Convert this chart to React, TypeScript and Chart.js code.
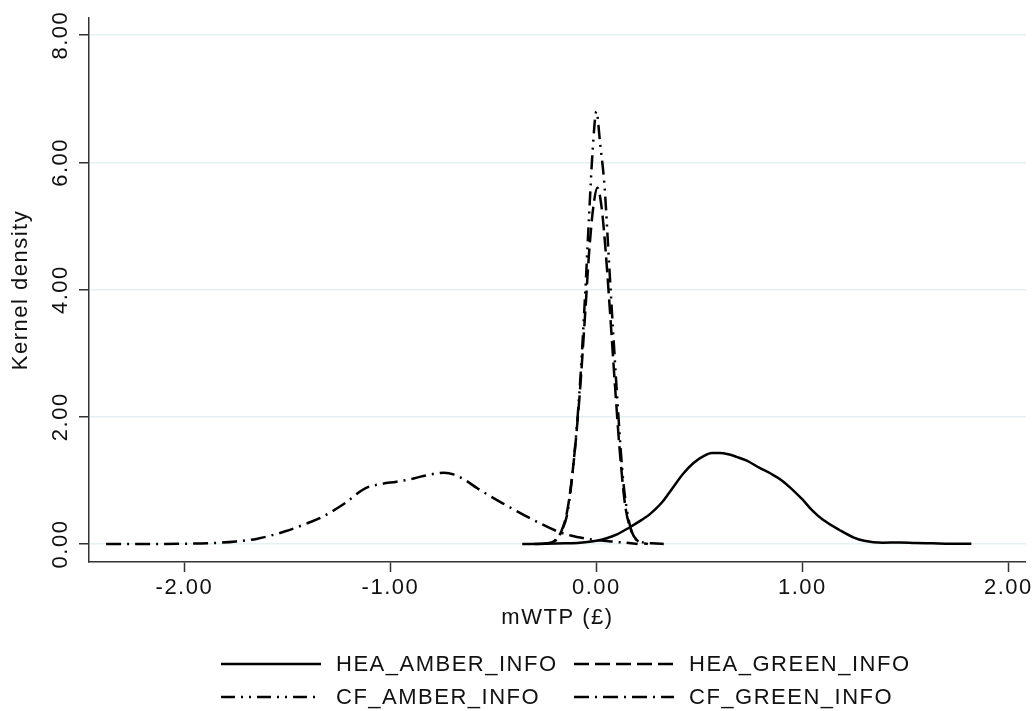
import React, { useEffect, useRef } from 'react';
import { Chart, registerables } from 'chart.js';

Chart.register(...registerables);

// ---- data ----
const HEA_AMBER_X = [-0.36, -0.25, -0.15, -0.08, 0.0, 0.05, 0.1, 0.16, 0.22, 0.26, 0.32, 0.37, 0.42, 0.47, 0.52, 0.56, 0.6, 0.64, 0.68, 0.73, 0.79, 0.85, 0.9, 0.95, 1.0, 1.05, 1.1, 1.18, 1.25, 1.3, 1.39, 1.47, 1.55, 1.63, 1.72, 1.82];
const HEA_AMBER_Y = [0, 0.002, 0.01, 0.02, 0.05, 0.09, 0.15, 0.26, 0.38, 0.47, 0.66, 0.88, 1.1, 1.27, 1.38, 1.43, 1.43, 1.41, 1.37, 1.31, 1.2, 1.1, 1.0, 0.86, 0.7, 0.52, 0.38, 0.22, 0.1, 0.05, 0.02, 0.025, 0.015, 0.01, 0.004, 0.005];

const HEA_GREEN_X = [-0.26, -0.2, -0.17, -0.14, -0.11, -0.08, -0.055, -0.035, -0.015, 0.005, 0.025, 0.045, 0.065, 0.09, 0.115, 0.14, 0.17, 0.2, 0.25];
const HEA_GREEN_Y = [0, 0.05, 0.2, 0.55, 1.3, 2.4, 3.6, 4.6, 5.3, 5.6, 5.3, 4.6, 3.7, 2.5, 1.4, 0.6, 0.2, 0.05, 0];

const CF_AMBER_X = [-0.3, -0.24, -0.2, -0.17, -0.14, -0.11, -0.08, -0.055, -0.035, -0.018, 0, 0.018, 0.04, 0.06, 0.08, 0.105, 0.13, 0.16, 0.19, 0.22, 0.27, 0.34];
const CF_AMBER_Y = [0, 0.01, 0.06, 0.2, 0.5, 1.3, 2.5, 3.9, 5.2, 6.2, 6.8, 6.3, 5.6, 4.5, 3.4, 2.1, 1.0, 0.33, 0.08, 0.03, 0.01, 0];

const CF_GREEN_X = [-2.38, -2.2, -2.0, -1.85, -1.75, -1.65, -1.51, -1.4, -1.34, -1.23, -1.12, -1.05, -0.97, -0.9, -0.84, -0.74, -0.69, -0.63, -0.58, -0.455, -0.325, -0.19, -0.12, -0.06, 0.0, 0.07, 0.14, 0.2];
const CF_GREEN_Y = [0, 0, 0.004, 0.016, 0.04, 0.08, 0.2, 0.33, 0.41, 0.62, 0.88, 0.94, 0.98, 1.02, 1.07, 1.12, 1.09, 0.99, 0.88, 0.64, 0.41, 0.2, 0.13, 0.09, 0.06, 0.04, 0.02, 0];

const SERIES_LABELS = ['HEA_AMBER_INFO', 'HEA_GREEN_INFO', 'CF_AMBER_INFO', 'CF_GREEN_INFO'];

const X_TICKS = [-2, -1, 0, 1, 2];
const X_TICK_LABELS = ['-2.00', '-1.00', '0.00', '1.00', '2.00'];
const Y_TICKS = [0, 2, 4, 6, 8];
const Y_TICK_LABELS = ['0.00', '2.00', '4.00', '6.00', '8.00'];

const X_MIN = -2.463;
const X_MAX = 2.085;
const Y_MIN = -0.283;
const Y_MAX = 8.27;

const X_TITLE = 'mWTP (£)';
const Y_TITLE = 'Kernel density';

// ---- styles ----
const FONT = "'Liberation Sans', Arial, sans-serif";
const FONT_SIZE = 22;
const SPACING = '1.5px';
const TEXT = '#111111';
const AXIS = '#333333';
const GRID = '#e6eff1';
const LINE = '#000000';

const DASHES: number[][] = [[], [15, 6], [14, 6, 2, 6, 2, 6], [15, 6, 2, 6]];

const spacingPlugin = {
  id: 'spacing',
  beforeUpdate(chart: any) {
    chart.ctx.letterSpacing = SPACING;
  },
  beforeDraw(chart: any) {
    chart.ctx.letterSpacing = SPACING;
  },
};

const LEGEND_COL_X = [221, 574];
const LEGEND_ROW_Y = [664, 697];
const SAMPLE_W = 100;

const gridLegend = {
  id: 'gridLegend',
  afterDraw(chart: any) {
    const ctx = chart.ctx as CanvasRenderingContext2D;
    ctx.save();
    (ctx as any).letterSpacing = SPACING;
    chart.data.datasets.forEach((ds: any, i: number) => {
      const col = i % 2;
      const row = Math.floor(i / 2);
      const x0 = LEGEND_COL_X[col];
      const y = LEGEND_ROW_Y[row];
      ctx.beginPath();
      ctx.setLineDash(ds.borderDash || []);
      ctx.lineWidth = ds.borderWidth;
      ctx.strokeStyle = ds.borderColor;
      ctx.lineCap = 'butt';
      ctx.moveTo(x0, y);
      ctx.lineTo(x0 + SAMPLE_W, y);
      ctx.stroke();
      ctx.setLineDash([]);
      ctx.fillStyle = TEXT;
      ctx.font = `${FONT_SIZE}px ${FONT}`;
      ctx.textAlign = 'left';
      ctx.textBaseline = 'middle';
      ctx.fillText(ds.label, x0 + SAMPLE_W + 15, y + 1);
    });
    ctx.restore();
  },
};

function toPoints(xs: number[], ys: number[]) {
  return xs.map((x, i) => ({ x, y: ys[i] }));
}

export default function App() {
  const ref = useRef<HTMLCanvasElement | null>(null);

  useEffect(() => {
    document.body.style.margin = '0';
    const canvas = ref.current;
    if (!canvas) return;
    const seriesX = [HEA_AMBER_X, HEA_GREEN_X, CF_AMBER_X, CF_GREEN_X];
    const seriesY = [HEA_AMBER_Y, HEA_GREEN_Y, CF_AMBER_Y, CF_GREEN_Y];
    const datasets = SERIES_LABELS.map((label, i) => ({
      label,
      data: toPoints(seriesX[i], seriesY[i]),
      borderColor: LINE,
      backgroundColor: LINE,
      borderWidth: 2.5,
      borderDash: DASHES[i],
      pointRadius: 0,
      fill: false,
      cubicInterpolationMode: 'monotone' as const,
    }));

    const font = { family: FONT, size: FONT_SIZE, lineHeight: 1.2 };

    const chart = new Chart(canvas, {
      type: 'line',
      data: { datasets },
      options: {
        responsive: false,
        animation: false,
        devicePixelRatio: 1,
        layout: { padding: { top: 18, right: 9, left: 0, bottom: 69 } },
        plugins: {
          legend: { display: false },
          tooltip: { enabled: false },
        },
        scales: {
          x: {
            type: 'linear',
            min: X_MIN,
            max: X_MAX,
            afterBuildTicks: (s: any) => {
              s.ticks = X_TICKS.map((v) => ({ value: v }));
            },
            afterFit: (s: any) => {
              s.height = 80;
            },
            grid: {
              drawOnChartArea: false,
              tickColor: AXIS,
              tickLength: 10,
              tickWidth: 1.5,
            },
            border: { color: AXIS, width: 1.5 },
            ticks: {
              color: TEXT,
              font,
              padding: 3,
              autoSkip: false,
              minRotation: 0,
              maxRotation: 0,
              callback: (v: any) => {
                const k = X_TICKS.indexOf(Number(v));
                return k >= 0 ? X_TICK_LABELS[k] : '';
              },
            },
            title: {
              display: true,
              text: X_TITLE,
              color: TEXT,
              font,
              padding: { top: 0, bottom: 11 },
            },
          },
          y: {
            type: 'linear',
            min: Y_MIN,
            max: Y_MAX,
            afterBuildTicks: (s: any) => {
              s.ticks = Y_TICKS.map((v) => ({ value: v }));
            },
            afterFit: (s: any) => {
              s.width = 89;
            },
            grid: {
              color: GRID,
              lineWidth: 1.5,
              tickColor: AXIS,
              tickLength: 10,
              tickWidth: 1.5,
            },
            border: { color: AXIS, width: 1.5 },
            ticks: {
              color: TEXT,
              font,
              padding: -6,
              minRotation: 90,
              maxRotation: 90,
              crossAlign: 'center',
              autoSkip: false,
              callback: (v: any) => {
                const k = Y_TICKS.indexOf(Number(v));
                return k >= 0 ? Y_TICK_LABELS[k] : '';
              },
            },
            title: {
              display: true,
              text: Y_TITLE,
              color: TEXT,
              font,
              padding: { top: 8, bottom: 0 },
            },
          },
        },
      },
      plugins: [spacingPlugin, gridLegend],
    } as any);

    return () => chart.destroy();
  }, []);

  return (
    <div style={{ position: 'absolute', left: 0, top: 0, width: 1036, height: 711, background: '#fff' }}>
      <canvas ref={ref} width={1036} height={711} style={{ display: 'block' }} />
    </div>
  );
}
